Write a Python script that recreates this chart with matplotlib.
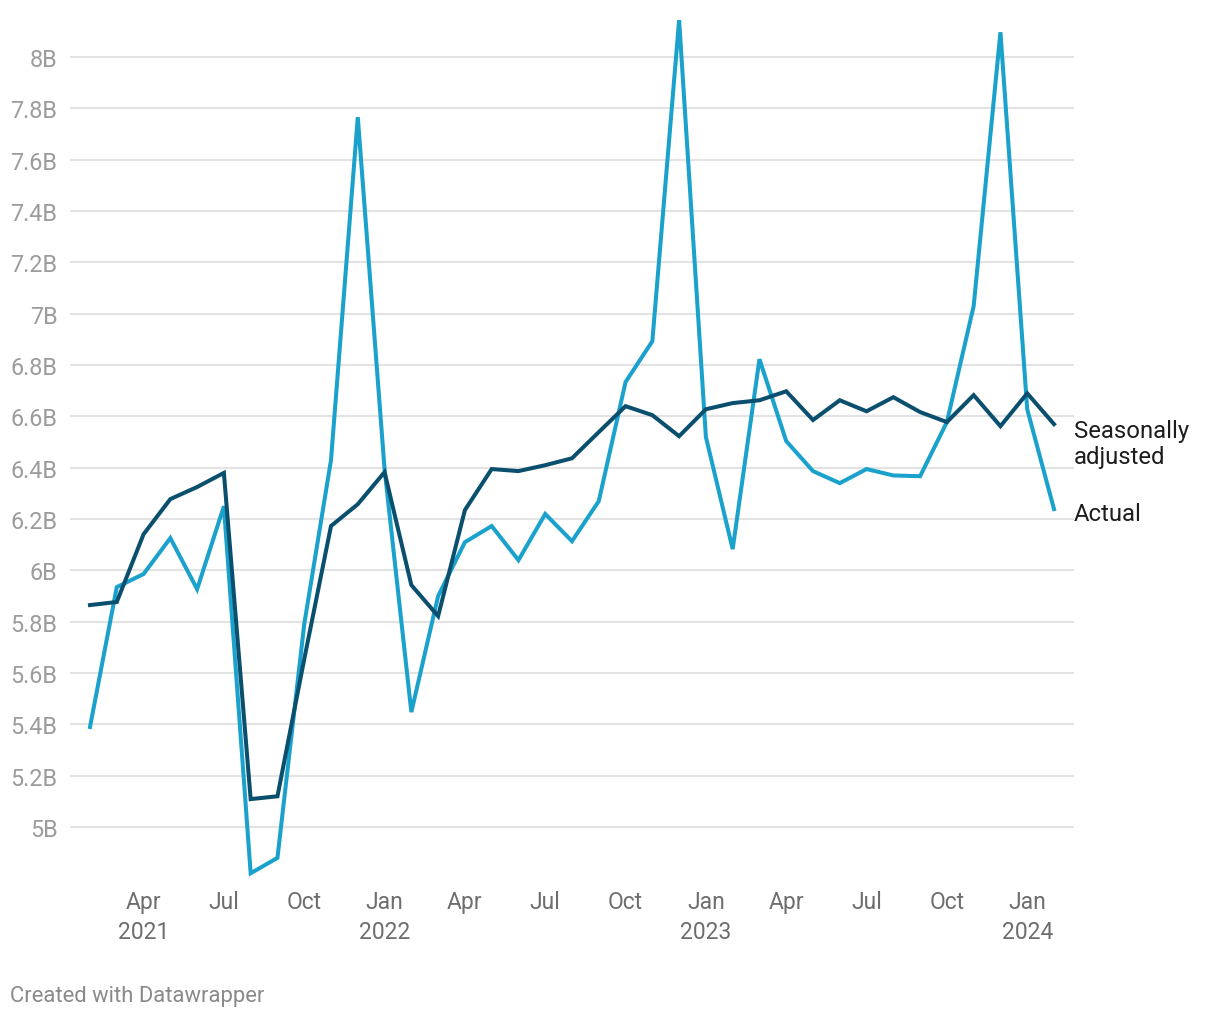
import matplotlib
matplotlib.use("Agg")
import matplotlib.pyplot as plt
from matplotlib.ticker import FixedLocator, FuncFormatter

# --- dados (mensal, fev/2021 a fev/2024) ---
months = ["Feb 2021", "Mar 2021", "Apr 2021", "May 2021", "Jun 2021", "Jul 2021",
          "Aug 2021", "Sep 2021", "Oct 2021", "Nov 2021", "Dec 2021",
          "Jan 2022", "Feb 2022", "Mar 2022", "Apr 2022", "May 2022", "Jun 2022",
          "Jul 2022", "Aug 2022", "Sep 2022", "Oct 2022", "Nov 2022", "Dec 2022",
          "Jan 2023", "Feb 2023", "Mar 2023", "Apr 2023", "May 2023", "Jun 2023",
          "Jul 2023", "Aug 2023", "Sep 2023", "Oct 2023", "Nov 2023", "Dec 2023",
          "Jan 2024", "Feb 2024"]

actual = [5.39, 5.935, 5.986, 6.126, 5.927, 6.25, 4.82, 4.88, 5.79, 6.43, 7.766,
          6.395, 5.448, 5.90, 6.11, 6.173, 6.04, 6.22, 6.114, 6.27, 6.734, 6.893, 8.144,
          6.52, 6.083, 6.823, 6.504, 6.387, 6.34, 6.395, 6.37, 6.367, 6.578, 7.03, 8.097,
          6.628, 6.239]

seasonally_adjusted = [5.865, 5.877, 6.141, 6.278, 6.325, 6.38, 5.109, 5.12, 5.654, 6.173, 6.258,
                       6.383, 5.943, 5.822, 6.235, 6.395, 6.387, 6.41, 6.437, 6.539, 6.64, 6.605, 6.523,
                       6.628, 6.652, 6.663, 6.698, 6.586, 6.663, 6.62, 6.675, 6.617, 6.578, 6.683, 6.562,
                       6.69, 6.57]

tick_months = ["Apr 2021", "Jul 2021", "Oct 2021", "Jan 2022", "Apr 2022", "Jul 2022",
               "Oct 2022", "Jan 2023", "Apr 2023", "Jul 2023", "Oct 2023", "Jan 2024"]
tick_labels = ["Apr\n2021", "Jul", "Oct", "Jan\n2022", "Apr", "Jul",
               "Oct", "Jan\n2023", "Apr", "Jul", "Oct", "Jan\n2024"]

y_ticks = [5.0, 5.2, 5.4, 5.6, 5.8, 6.0, 6.2, 6.4, 6.6, 6.8, 7.0, 7.2, 7.4, 7.6, 7.8, 8.0]

# --- estilo ---
plt.rcParams['font.family'] = ['Roboto', 'DejaVu Sans']
cor_actual = "#1aa1cc"
cor_sa = "#0a4f6e"

x = list(range(len(months)))

fig = plt.figure(figsize=(12.2, 10.2), dpi=100)
ax = fig.add_axes([70 / 1220, 0.1328, 1004 / 1220, 0.853])

ax.plot(x, actual, color=cor_actual, lw=2.9, solid_joinstyle='miter', zorder=3)
ax.plot(x, seasonally_adjusted, color=cor_sa, lw=2.9, solid_joinstyle='miter', zorder=4)

ax.set_xlim(-0.747, len(months) - 1 + 0.747)
ax.set_ylim(4.78, 8.17)

# eixo y
ax.yaxis.set_major_locator(FixedLocator(y_ticks))
ax.yaxis.set_major_formatter(FuncFormatter(lambda v, _: f"{v:.1f}".rstrip('0').rstrip('.') + "B"))
ax.grid(axis='y', color='#e3e3e3', lw=1.5, zorder=0)
ax.tick_params(axis='y', length=0, pad=9, labelsize=16.8, labelcolor='#9c9c9c')

# eixo x
ax.set_xticks([months.index(m) for m in tick_months])
ax.set_xticklabels(tick_labels, linespacing=1.35)
ax.tick_params(axis='x', length=0, pad=5, labelsize=16.5, labelcolor='#6e6e6e')

for s in ax.spines.values():
    s.set_visible(False)

# rótulos das linhas
ax.annotate("Seasonally\nadjusted", (x[-1], seasonally_adjusted[-1]),
            xytext=(14.5, -14), textcoords='offset points', va='center', ha='left',
            fontsize=17.2, color='#1d1d1d', linespacing=1.2)
ax.annotate("Actual", (x[-1], actual[-1]),
            xytext=(14.5, -3), textcoords='offset points', va='center', ha='left',
            fontsize=17.2, color='#1d1d1d')

fig.text(10 / 1220, 1 - 997 / 1020, "Created with Datawrapper", fontsize=15.8,
         color='#8a8a8a', va='center', ha='left')

fig.savefig("out.png", dpi=100)
